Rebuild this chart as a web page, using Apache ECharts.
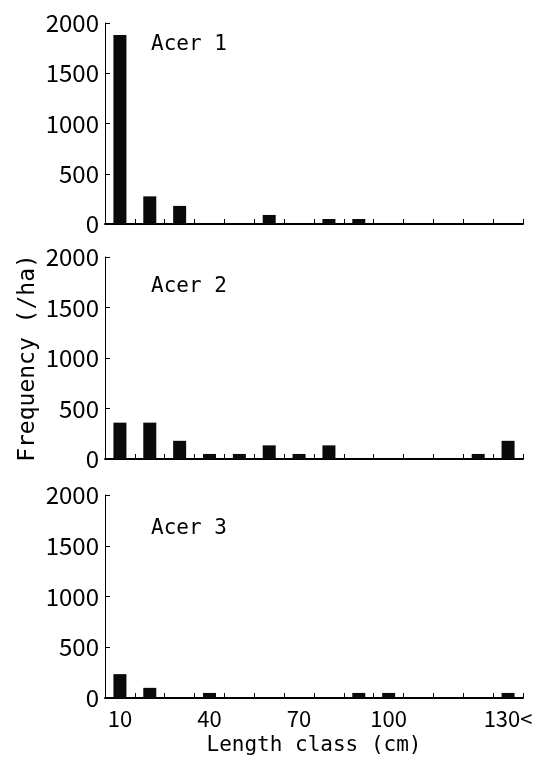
<!DOCTYPE html>
<html>
<head>
    <meta charset="utf-8">
    <title>Acer length class</title>
    <script src="https://cdn.jsdelivr.net/npm/echarts@6/dist/echarts.min.js"></script>
    <style>
        html, body { margin: 0; padding: 0; background: #fff; }
    </style>
</head>
<body>
<div id="chart" style="width:539px;height:769px;"></div>
<script type="text/javascript">
    // 长度级别
    var categories = ['10', '20', '30', '40', '50', '60', '70', '80', '90', '100', '110', '120', '130', '130<'];
    var shownLabels = ['10', '40', '70', '100', '130<'];
    var yTicks = [0, 500, 1000, 1500, 2000];
    var panelNames = ['Acer 1', 'Acer 2', 'Acer 3'];
    // 每公顷频数
    var acer1 = [1880, 275, 180, 0, 0, 90, 0, 50, 50, 0, 0, 0, 0, 0];
    var acer2 = [360, 360, 180, 50, 50, 135, 50, 135, 0, 0, 0, 0, 50, 180];
    var acer3 = [235, 100, 0, 50, 0, 0, 0, 0, 50, 50, 0, 0, 0, 50];

    var font = '"Noto Sans CJK JP", "Noto Sans", sans-serif';
    var monoFont = '"DejaVu Sans Mono", "Liberation Mono", monospace';
    var grids = [
        {left: 105, right: 16, top: 23, height: 201},
        {left: 105, right: 16, top: 257, height: 202},
        {left: 105, right: 16, top: 495, height: 203}
    ];
    var allData = [acer1, acer2, acer3];

    var xAxes = [], yAxes = [], series = [], texts = [];
    for (var i = 0; i < 3; i++) {
        var last = i === 2;
        xAxes.push({
            type: 'category',
            gridIndex: i,
            data: categories,
            boundaryGap: true,
            axisLine: {show: true, lineStyle: {color: '#000', width: 2}},
            axisTick: {show: true, inside: true, length: 5, alignWithLabel: false, interval: 0, lineStyle: {color: '#000', width: 1}},
            axisLabel: {
                show: last,
                interval: 0,
                margin: 10,
                color: '#000',
                fontSize: 22,
                fontFamily: font,
                formatter: function (v) { return shownLabels.indexOf(v) >= 0 ? v : ''; }
            },
            name: last ? 'Length class (cm)' : '',
            nameLocation: 'middle',
            nameGap: 37,
            nameTextStyle: {color: '#000', fontSize: 21, fontFamily: monoFont}
        });
        yAxes.push({
            type: 'value',
            gridIndex: i,
            min: 0,
            max: 2000,
            interval: 500,
            splitLine: {show: false},
            axisLine: {show: true, lineStyle: {color: '#000', width: 1}},
            axisTick: {show: true, inside: true, length: 5, lineStyle: {color: '#000', width: 1}},
            axisLabel: {
                color: '#000',
                fontSize: 24,
                fontFamily: font,
                margin: 6,
                formatter: function (v) { return yTicks.indexOf(v) >= 0 ? String(v) : ''; }
            },
            name: i === 1 ? 'Frequency (/ha)' : '',
            nameLocation: 'middle',
            nameGap: 65,
            nameMoveOverlap: false,
            nameTextStyle: {color: '#000', fontSize: 23, fontFamily: monoFont}
        });
        series.push({
            type: 'bar',
            xAxisIndex: i,
            yAxisIndex: i,
            data: allData[i],
            barWidth: 13,
            itemStyle: {color: '#0a0a0a'}
        });
    }

    // 面板标题
    var labelTops = [46, 288, 530];
    for (var k = 0; k < 3; k++) {
        texts.push({
            type: 'text',
            left: 151,
            top: labelTops[k] - 12,
            style: {text: panelNames[k], fill: '#000', font: '21px ' + monoFont}
        });
    }

    var myChart = echarts.init(document.getElementById('chart'));
    myChart.setOption({
        animation: false,
        backgroundColor: '#fff',
        grid: grids,
        xAxis: xAxes,
        yAxis: yAxes,
        series: series,
        graphic: texts
    });
</script>
</body>
</html>
